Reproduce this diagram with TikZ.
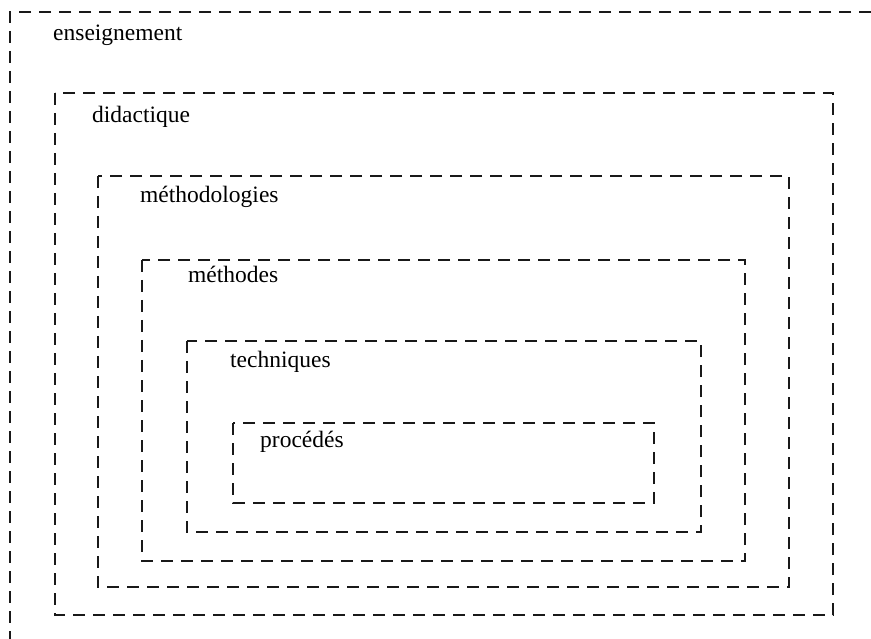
\documentclass[tikz,border=0pt]{standalone}
\usepackage{fontspec}
\setmainfont{Liberation Serif}
\begin{document}
\begin{tikzpicture}[x=1pt,y=-1pt,
  frame/.style={draw=black!90, line width=1.6pt, dash pattern=on 12pt off 8pt},
  lbl/.style={anchor=base west, inner sep=0pt, font=\fontsize{23.5}{28}\selectfont}]
\useasboundingbox (0,0) rectangle (871,639);
% outer open frame
\draw[frame] (871,12) -- (10,12) -- (10,639);
% nested boxes
\draw[frame] (55,93) rectangle (833,615);
\draw[frame] (98,176) rectangle (789,587);
\draw[frame] (142,260) rectangle (745,561);
\draw[frame] (187,341) rectangle (701,532);
\draw[frame] (233,423) rectangle (654,503);
% labels
\node[lbl] (ens) at (53,41) {enseignement};
\node[lbl] (did) at (92,123) {didactique};
\node[lbl] (metho) at (140,203) {méthodologies};
\node[lbl] (meth) at (188,283) {méthodes};
\node[lbl] (tech) at (230,367) {techniques};
\node[lbl] (proc) at (260,447) {procédés};
\end{tikzpicture}
\end{document}
